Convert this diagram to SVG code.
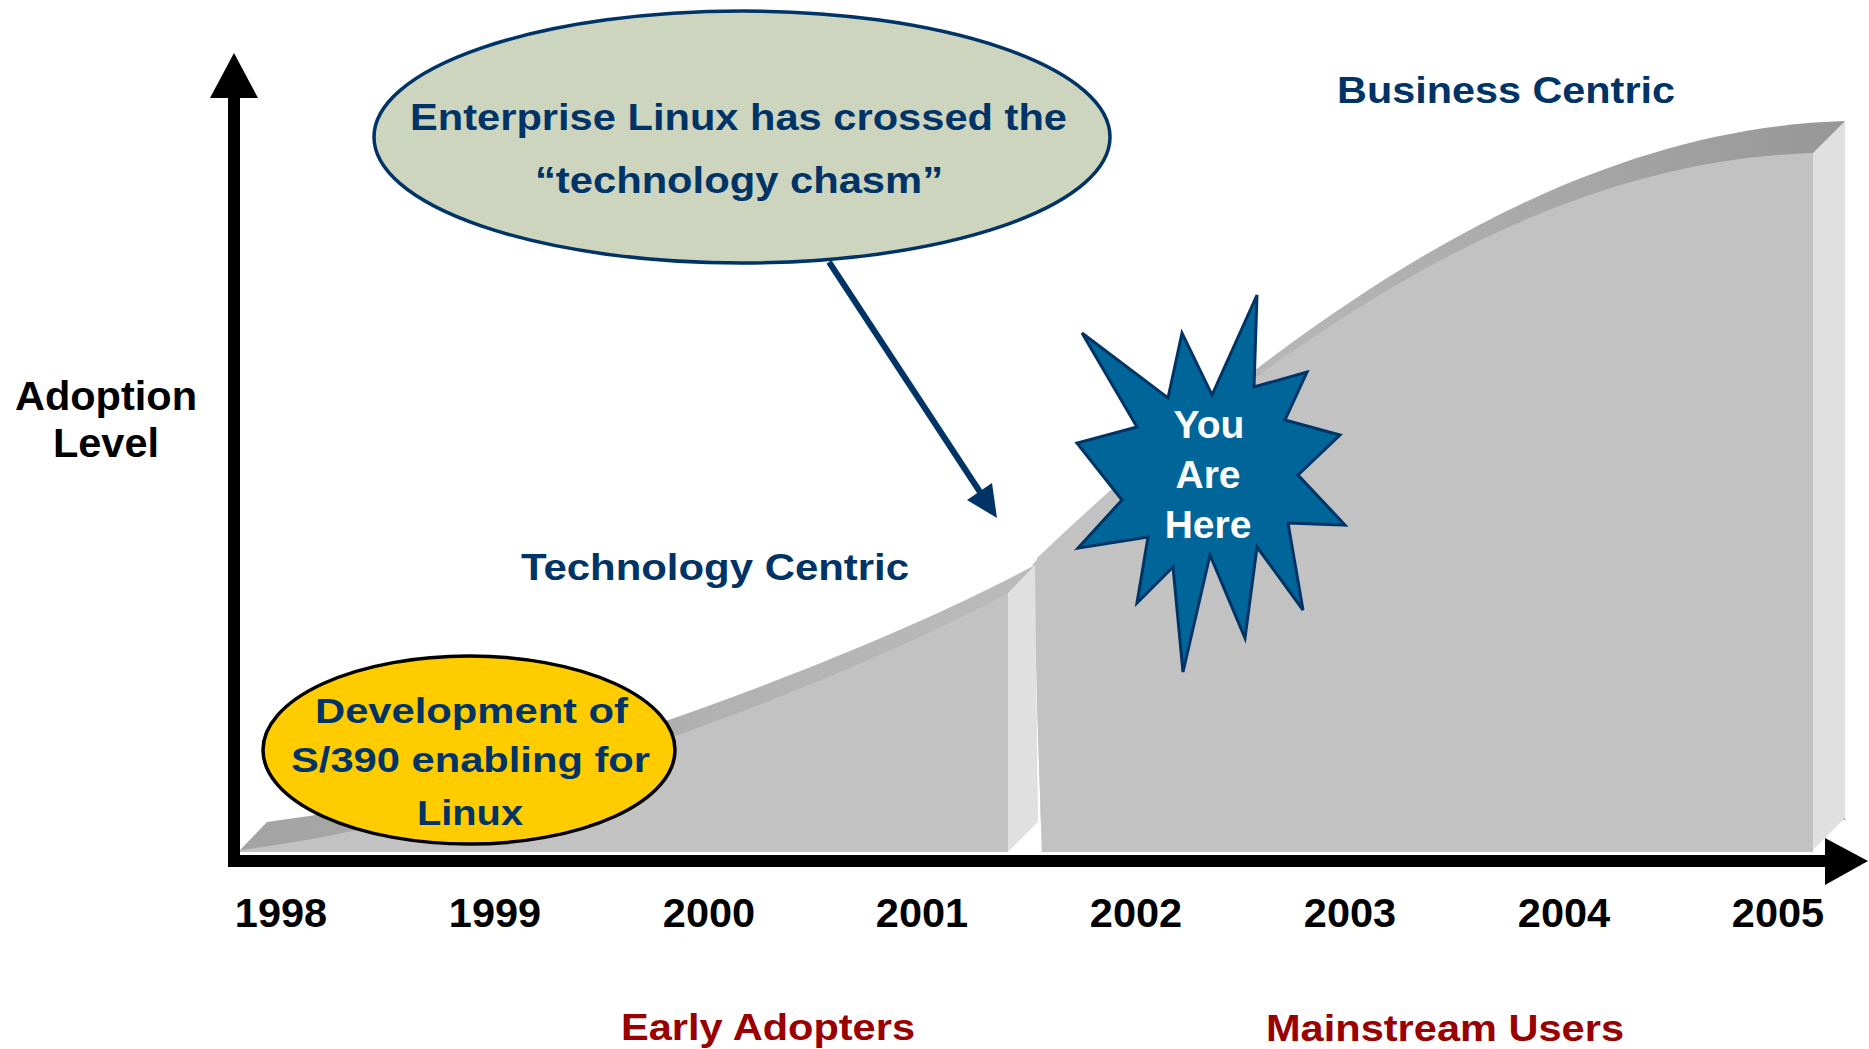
<svg xmlns="http://www.w3.org/2000/svg" width="1869" height="1049" viewBox="0 0 1869 1049">
<defs>
<style>
text{font-family:"Liberation Sans",Arial,Helvetica,sans-serif;font-weight:bold}
.navy{fill:#003366}
.red{fill:#990000}
.blk{fill:#000000;text-anchor:middle}
.wht{fill:#ffffff;text-anchor:middle}
.face{fill:#C2C2C2}
.side{fill:#E0E0E0}
</style>
<linearGradient id="band1" gradientUnits="userSpaceOnUse" x1="240" y1="0" x2="1035" y2="0">
<stop offset="0" stop-color="#A3A3A3"/><stop offset="1" stop-color="#BBBBBB"/>
</linearGradient>
<linearGradient id="band2" gradientUnits="userSpaceOnUse" x1="1037" y1="0" x2="1845" y2="0">
<stop offset="0" stop-color="#C4C4C4"/><stop offset="0.5" stop-color="#AEAEAE"/><stop offset="1" stop-color="#979797"/>
</linearGradient>
<clipPath id="clip2"><polygon points="1015,0 1869,0 1869,1049 1048,1049"/></clipPath>
</defs>
<rect width="1869" height="1049" fill="#ffffff"/>

<g id="adoption-curve">
<g id="mainstream-area" clip-path="url(#clip2)">
<path d="M1037,558 C1337,273 1595,128 1845,121 L1845,820 L1037,820 Z" fill="url(#band2)"/>
<path class="face" d="M1005,590 C1305,305 1563,160 1813,153 L1813,852 L1005,852 Z"/>
</g>
<polygon class="side" points="1813,153 1845,121 1845,818 1813,850"/>
<g id="early-area">
<path d="M240,850 L267,822 C517,792 885,647 1035,565 L1035,822 L240,852 Z" fill="url(#band1)"/>
<polygon class="side" points="1008,593 1035,565 1038,822 1008,852"/>
<path class="face" d="M240,852 L240,850 C490,820 858,675 1008,593 L1008,852 Z"/>
</g>
</g>

<g id="axes">
<line x1="234" y1="96" x2="234" y2="867" stroke="#000" stroke-width="12"/>
<line x1="228" y1="861" x2="1827" y2="861" stroke="#000" stroke-width="12"/>
<polygon points="234,53 210,98 258,98" fill="#000"/>
<polygon points="1825,838 1868,861 1825,885" fill="#000"/>
</g>

<g id="connectors">
<line x1="829" y1="262" x2="980" y2="492" stroke="#003366" stroke-width="6"/>
<polygon points="997,518 967,500 992,483" fill="#003366"/>
</g>

<g id="callout-chasm">
<ellipse cx="742" cy="137" rx="368" ry="126" fill="#CDD5BF" stroke="#003366" stroke-width="3.5"/>
<text class="navy" x="410" y="130" font-size="36" textLength="657" lengthAdjust="spacingAndGlyphs">Enterprise Linux has crossed the</text>
<text class="navy" x="535" y="193" font-size="36" textLength="408" lengthAdjust="spacingAndGlyphs">“technology chasm”</text>
</g>

<g id="note-s390">
<ellipse cx="469" cy="750" rx="206" ry="94" fill="#FFCC00" stroke="#000" stroke-width="3.5"/>
<text class="navy" x="315" y="723" font-size="35" textLength="313" lengthAdjust="spacingAndGlyphs">Development of</text>
<text class="navy" x="291" y="772" font-size="35" textLength="359" lengthAdjust="spacingAndGlyphs">S/390 enabling for</text>
<text class="navy" x="417" y="825" font-size="35" textLength="106" lengthAdjust="spacingAndGlyphs">Linux</text>
</g>

<g id="you-are-here">
<polygon points="1257,295 1254,387 1307,372 1285,420 1340,435 1298,475 1345,525 1288,523 1303,610 1257,547 1245,638 1210,555 1183,672 1173,567 1137,603 1148,537 1078,548 1122,500 1077,443 1137,427 1082,333 1168,398 1182,333 1212,395" fill="#006699" stroke="#003366" stroke-width="3" stroke-linejoin="miter"/>
<text class="wht" x="1209" y="438" font-size="39">You</text>
<text class="wht" x="1208" y="488" font-size="39">Are</text>
<text class="wht" x="1208" y="538" font-size="39">Here</text>
</g>

<g id="labels">
<text class="navy" x="521" y="580" font-size="37" textLength="388" lengthAdjust="spacingAndGlyphs">Technology Centric</text>
<text class="navy" x="1337" y="103" font-size="36" textLength="338" lengthAdjust="spacingAndGlyphs">Business Centric</text>
<text class="blk" x="106" y="410" font-size="41.5">Adoption</text>
<text class="blk" x="106" y="457" font-size="41.5">Level</text>
<text class="blk" x="281" y="927" font-size="41.5">1998</text>
<text class="blk" x="495" y="927" font-size="41.5">1999</text>
<text class="blk" x="709" y="927" font-size="41.5">2000</text>
<text class="blk" x="922" y="927" font-size="41.5">2001</text>
<text class="blk" x="1136" y="927" font-size="41.5">2002</text>
<text class="blk" x="1350" y="927" font-size="41.5">2003</text>
<text class="blk" x="1564" y="927" font-size="41.5">2004</text>
<text class="blk" x="1778" y="927" font-size="41.5">2005</text>
<text class="red" x="621" y="1040" font-size="37" textLength="294" lengthAdjust="spacingAndGlyphs">Early Adopters</text>
<text class="red" x="1266" y="1041" font-size="37" textLength="358" lengthAdjust="spacingAndGlyphs">Mainstream Users</text>
</g>
</svg>
